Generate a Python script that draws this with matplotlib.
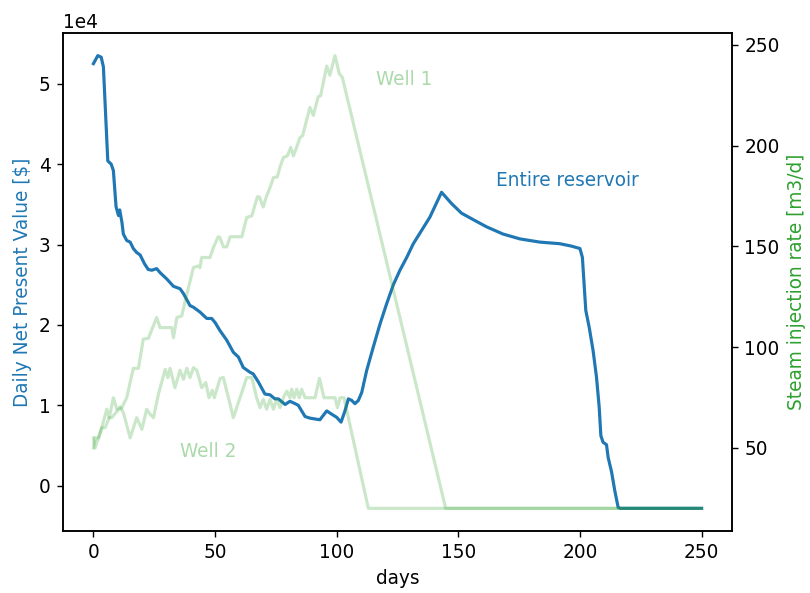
import matplotlib
matplotlib.use("Agg")
import matplotlib.pyplot as plt

# Daily net present value of the entire reservoir ($)
npv_days = [0, 1.8, 3.2, 4.1, 5.9, 7.3, 8.2, 9.3, 10.3, 10.8, 11.7, 12.3, 13.7, 15.1,
            16.4, 17.8, 19.2, 21.0, 22.5, 24.0, 26.0, 27.4, 30.2, 32.9, 35.6, 37.0,
            39.7, 41.1, 43.8, 46.6, 48.6, 50.0, 52.0, 54.8, 57.5, 59.6, 61.6, 64.4,
            65.7, 67.8, 70.5, 72.6, 74.6, 76.0, 78.8, 80.8, 82.9, 84.2, 87.0, 89.0,
            91.0, 93.1, 95.9, 97.9, 100.0, 101.8, 103.4, 104.8, 106.2, 107.5, 108.9,
            110.3, 112.3, 115.0, 117.8, 120.5, 123.3, 126.0, 128.8, 131.5, 138.3,
            143.1, 147.2, 151.3, 156.1, 161.6, 168.4, 175.3, 183.5, 191.7, 196.5,
            200.0, 201.0, 202.4, 203.8, 205.4, 206.8, 207.9, 208.6, 209.5, 210.9,
            211.6, 213.0, 214.3, 215.7, 216.5, 250.0]
npv_values = [52500, 53500, 53300, 52100, 40400, 40000, 39200, 34700, 33600, 34300,
              32800, 31300, 30500, 30300, 29500, 29000, 28700, 27600, 26900, 26800,
              27000, 26500, 25700, 24800, 24500, 23900, 22400, 22200, 21600, 20800,
              20800, 20300, 19300, 18100, 16600, 16000, 14700, 14100, 13900, 12900,
              11400, 11300, 10800, 10800, 10100, 10500, 10200, 10000, 8600, 8400,
              8300, 8200, 9300, 8900, 8500, 7900, 9300, 10800, 10600, 10200, 10600,
              11600, 14300, 17200, 20100, 22600, 25000, 26800, 28400, 30100, 33400,
              36500, 35100, 33900, 33100, 32200, 31300, 30700, 30300, 30100, 29800,
              29500, 28400, 21800, 19700, 16800, 13500, 9800, 6200, 5400, 5100,
              3500, 1700, -600, -2700, -2820, -2820]

# Steam injection rate of well 1 (m3/d)
well1_days = [0, 0.7, 2.2, 3.4, 4.8, 6.5, 7.5, 10.3, 11.7, 13.7, 16.4, 18.5, 20.5,
              22.6, 26.0, 27.4, 32.2, 32.9, 34.3, 36.3, 38.4, 41.1, 43.1, 43.8, 44.5,
              47.9, 49.3, 51.3, 52.0, 53.4, 54.8, 56.2, 61.0, 63.0, 65.1, 67.4, 68.2,
              69.8, 71.2, 72.6, 74.0, 75.6, 76.7, 78.1, 79.7, 81.1, 82.2, 83.6, 84.9,
              86.0, 89.0, 90.4, 92.4, 93.4, 95.9, 97.2, 99.3, 101.1, 102.3, 144.8, 250.0]
well1_rate = [50, 55, 55, 60, 60, 65, 65, 69, 70, 75, 89.5, 89.5, 104, 104.4, 114.7,
              109.7, 109.7, 104.7, 114.7, 115.5, 126.3, 139.5, 140.3, 139.4, 144.5,
              144.5, 149.4, 154.8, 154.4, 149.8, 149.8, 154.8, 154.8, 164.3, 165.2,
              174.6, 174.6, 169.6, 175.1, 179.2, 184.2, 184.5, 189.5, 194.1, 194.9,
              199.1, 194.9, 199.4, 204, 205, 219, 215, 224.3, 224.8, 239.5, 235,
              244.7, 235.6, 234, 20, 20]

# Steam injection rate of well 2 (m3/d)
well2_days = [0, 0.7, 3.4, 5.5, 6.5, 8.2, 9.6, 11.0, 12.3, 15.1, 17.8, 19.9, 21.9,
              23.3, 24.7, 26.7, 29.5, 30.6, 31.5, 33.5, 35.6, 37.0, 38.4, 39.7, 41.1,
              42.5, 44.5, 46.2, 47.5, 48.9, 49.7, 52.1, 53.4, 56.2, 57.5, 58.9, 63.0,
              65.1, 67.1, 68.5, 69.8, 71.2, 72.6, 74.0, 75.3, 76.7, 78.1, 79.5, 80.8,
              81.5, 82.5, 83.6, 84.6, 85.6, 87.0, 91.1, 92.9, 94.8, 99.3, 100.3,
              101.4, 103.0, 113.0, 250.0]
well2_rate = [55, 50, 60, 69.2, 65, 74.9, 69.2, 70.3, 67.5, 55, 65, 59.2, 69.2, 66.7,
              65, 76.6, 89, 84.9, 89.5, 79.9, 88.5, 84, 89.5, 84.9, 89.8, 88.5, 79.9,
              82.4, 74.9, 78.6, 74.9, 84.5, 84.9, 71.6, 65, 70, 84.9, 84.9, 74.9, 70,
              74.1, 69.2, 74.1, 69.2, 74.1, 70, 74.9, 78.2, 74.9, 79.1, 74.9, 79.1,
              74.9, 79.1, 74.9, 74.9, 84.5, 74.9, 74.9, 70, 74.9, 74.9, 20, 20]

blue = "tab:blue"
green = "tab:green"

plt.rcParams["font.size"] = 10.6
plt.rcParams["axes.linewidth"] = 0.9

fig = plt.figure(figsize=(810 / 126, 593 / 126), dpi=126)
ax1 = fig.add_axes([0.0778, 0.1046, 0.8259, 0.8398])
ax1.plot(npv_days, npv_values, color=blue, lw=1.8)
ax1.set_xlabel("days")
ax1.set_ylabel("Daily Net Present Value [$]", color=blue)
ax1.ticklabel_format(axis="y", style="sci", scilimits=(0, 0))
ax1.text(165.5, 38000, "Entire reservoir", color=blue, va="center")

ax2 = ax1.twinx()
ax2.plot(well1_days, well1_rate, color=green, alpha=0.25, lw=1.8)
ax2.plot(well2_days, well2_rate, color=green, alpha=0.25, lw=1.8)
ax2.set_ylabel("Steam injection rate [m3/d]", color=green)
ax2.text(116, 233, "Well 1", color=green, alpha=0.4, va="center")
ax2.text(35.5, 48, "Well 2", color=green, alpha=0.4, va="center")

fig.savefig("out.png", dpi=126)
